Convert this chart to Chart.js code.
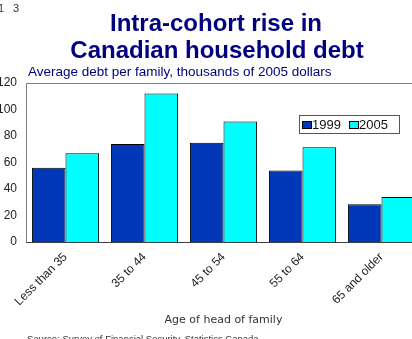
<!DOCTYPE html>
<html>
<head>
<meta charset="utf-8">
<script src="https://cdn.jsdelivr.net/npm/chart.js@4/dist/chart.umd.min.js"></script>
<style>
  html, body { margin: 0; padding: 0; background: #fff; overflow: hidden; }
  #wrap { width: 412px; height: 339px; overflow: hidden; position: relative; }
  canvas { display: block; }
</style>
</head>
<body>
<div id="wrap"><canvas id="c" width="421" height="339"></canvas></div>
<script>
const categories = ["Less than 35", "35 to 44", "45 to 54", "55 to 64", "65 and older"];
const debt1999 = [56, 74, 75, 54, 28.5];
const debt2005 = [67, 112, 91, 71.5, 34];
const seriesNames = ["1999", "2005"];
const yMin = 0, yMax = 120, yStep = 20;

const titleLines = ["Intra-cohort rise in", "Canadian household debt"];
const subtitleText = "Average debt per family, thousands of 2005 dollars";
const xAxisTitle = "Age of head of family";
const sourceText = "Source: Survey of Financial Security, Statistics Canada";

const SANS = '"Liberation Sans", Arial, sans-serif';

const decorPlugin = {
  id: 'decor',
  beforeDraw(chart) {
    const ctx = chart.ctx;
    ctx.save();
    ctx.fillStyle = '#fff';
    ctx.fillRect(0, 0, chart.width, chart.height);
    ctx.restore();
  },
  afterDatasetsDraw(chart) {
    const ctx = chart.ctx;
    const a = chart.chartArea;
    ctx.save();
    // plot frame
    ctx.strokeStyle = '#808080';
    ctx.lineWidth = 1;
    ctx.beginPath();
    ctx.moveTo(a.left + 0.5, a.bottom + 0.5);
    ctx.lineTo(a.left + 0.5, a.top + 0.5);
    ctx.lineTo(a.right + 0.5, a.top + 0.5);
    ctx.stroke();
    ctx.strokeStyle = '#404040';
    ctx.beginPath();
    ctx.moveTo(a.left, a.bottom + 0.5);
    ctx.lineTo(a.right, a.bottom + 0.5);
    ctx.stroke();

    // corner text
    ctx.fillStyle = '#333';
    ctx.font = '11px ' + SANS;
    ctx.textBaseline = 'alphabetic';
    ctx.textAlign = 'left';
    ctx.fillText('1', -2, 12);
    ctx.fillText('3', 13, 12);

    // title
    ctx.fillStyle = '#000080';
    ctx.font = 'bold 24px ' + SANS;
    ctx.textAlign = 'center';
    ctx.fillText(titleLines[0], 216, 31);
    ctx.fillText(titleLines[1], 217, 58);

    // subtitle
    ctx.font = '13.5px ' + SANS;
    ctx.textAlign = 'left';
    ctx.fillText(subtitleText, 28, 76);

    // source
    ctx.fillStyle = '#333';
    ctx.font = '9.5px ' + SANS;
    ctx.fillText(sourceText, 27, 342);

    // legend
    const lx = 299, ly = 115, lw = 100, lh = 18;
    ctx.fillStyle = '#fff';
    ctx.fillRect(lx, ly, lw, lh);
    ctx.strokeStyle = '#555';
    ctx.strokeRect(lx + 0.5, ly + 0.5, lw, lh);
    const items = chart.data.datasets;
    const sw = [302, 349];
    ctx.font = '13px ' + SANS;
    ctx.textAlign = 'left';
    items.forEach((ds, i) => {
      ctx.fillStyle = ds.backgroundColor;
      ctx.fillRect(sw[i], 121, 9, 7);
      ctx.strokeStyle = '#000';
      ctx.strokeRect(sw[i] + 0.5, 121.5, 9, 7);
      ctx.fillStyle = '#111';
      ctx.fillText(ds.label, sw[i] + 10, 129);
    });
    ctx.restore();
  }
};

new Chart(document.getElementById('c'), {
  type: 'bar',
  data: {
    labels: categories,
    datasets: [
      { label: seriesNames[0], data: debt1999, backgroundColor: '#0038B8', borderColor: '#000', borderWidth: 1 },
      { label: seriesNames[1], data: debt2005, backgroundColor: '#00FFFF', borderColor: '#000', borderWidth: 1 }
    ]
  },
  options: {
    responsive: false,
    animation: false,
    devicePixelRatio: 1,
    layout: { padding: { top: 83, left: 0, right: 0, bottom: 0 } },
    datasets: { bar: { categoryPercentage: 0.85, barPercentage: 1 } },
    plugins: {
      legend: { display: false },
      title: { display: false },
      tooltip: { enabled: false }
    },
    scales: {
      x: {
        grid: { display: false, drawTicks: false },
        border: { display: false },
        ticks: {
          maxRotation: 45, minRotation: 45, autoSkip: false,
          padding: 8,
          color: '#222',
          font: { family: SANS, size: 12 }
        },
        title: {
          display: true, text: xAxisTitle, color: '#333',
          font: { family: '"DejaVu Sans", sans-serif', size: 11 },
          padding: { top: 0, bottom: 12 }
        },
        afterFit(scale) { scale.height = 97; }
      },
      y: {
        min: yMin, max: yMax,
        grid: { display: false, drawTicks: false },
        border: { display: false },
        ticks: {
          stepSize: yStep,
          padding: 9,
          color: '#222',
          font: { family: SANS, size: 12 }
        },
        afterFit(scale) { scale.width = 26; }
      }
    }
  },
  plugins: [decorPlugin]
});
</script>
</body>
</html>
